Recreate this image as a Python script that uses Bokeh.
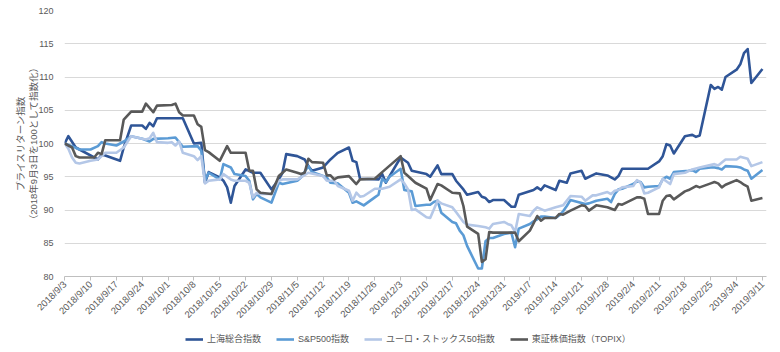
import math
import pandas as pd
from bokeh.plotting import figure
from bokeh.layouts import column
from bokeh.models import FixedTicker, Legend, LegendItem, Range1d
from bokeh.embed import file_html
from bokeh.resources import INLINE

# ---------------- data ----------------
shanghai_dates = ["2018-09-03","2018-09-04","2018-09-06","2018-09-07","2018-09-12","2018-09-13","2018-09-14","2018-09-18","2018-09-19","2018-09-21","2018-09-24","2018-09-25","2018-09-26","2018-09-27","2018-09-28","2018-10-05","2018-10-08","2018-10-10","2018-10-11","2018-10-12","2018-10-15","2018-10-16","2018-10-17","2018-10-18","2018-10-19","2018-10-22","2018-10-24","2018-10-26","2018-10-29","2018-10-31","2018-11-01","2018-11-02","2018-11-05","2018-11-07","2018-11-08","2018-11-09","2018-11-12","2018-11-14","2018-11-15","2018-11-16","2018-11-19","2018-11-20","2018-11-21","2018-11-22","2018-11-27","2018-11-28","2018-11-29","2018-11-30","2018-12-03","2018-12-05","2018-12-06","2018-12-10","2018-12-11","2018-12-13","2018-12-14","2018-12-17","2018-12-18","2018-12-20","2018-12-21","2018-12-24","2018-12-25","2018-12-26","2018-12-27","2018-12-28","2018-12-31","2019-01-02","2019-01-03","2019-01-04","2019-01-08","2019-01-09","2019-01-10","2019-01-11","2019-01-14","2019-01-15","2019-01-17","2019-01-18","2019-01-21","2019-01-22","2019-01-25","2019-01-28","2019-01-30","2019-01-31","2019-02-01","2019-02-08","2019-02-11","2019-02-12","2019-02-13","2019-02-14","2019-02-15","2019-02-18","2019-02-19","2019-02-20","2019-02-21","2019-02-22","2019-02-25","2019-02-26","2019-02-27","2019-02-28","2019-03-01","2019-03-04","2019-03-05","2019-03-06","2019-03-07","2019-03-08","2019-03-11"]
shanghai_values = [100.0,101.1,99.4,99.1,97.6,98.3,98.2,97.4,99.4,102.7,102.7,102.2,103.1,102.6,103.8,103.8,100.0,100.1,94.1,95.7,94.9,94.4,93.4,91.1,93.6,96.1,95.6,95.6,93.1,94.6,95.6,98.4,98.1,97.6,96.6,95.9,96.4,97.6,98.1,98.6,99.4,97.4,97.2,94.7,94.6,95.4,94.1,95.1,97.9,97.1,95.9,95.4,95.0,96.7,95.4,95.4,94.4,93.1,92.3,92.7,92.0,91.8,91.2,91.5,91.5,90.5,90.5,92.3,93.0,93.4,93.0,93.7,93.0,94.4,94.1,95.5,95.9,94.7,95.5,95.2,94.6,95.1,96.2,96.2,97.3,98.1,99.9,99.7,98.5,101.1,101.2,101.3,101.0,101.2,108.8,108.2,108.5,108.1,110.0,111.1,111.9,113.6,114.2,109.1,111.2]

sp500_dates = ["2018-09-03","2018-09-05","2018-09-07","2018-09-10","2018-09-12","2018-09-13","2018-09-14","2018-09-17","2018-09-19","2018-09-21","2018-09-24","2018-09-26","2018-09-27","2018-10-01","2018-10-03","2018-10-05","2018-10-09","2018-10-10","2018-10-11","2018-10-12","2018-10-15","2018-10-16","2018-10-18","2018-10-19","2018-10-22","2018-10-23","2018-10-24","2018-10-25","2018-10-26","2018-10-29","2018-10-31","2018-11-01","2018-11-05","2018-11-06","2018-11-08","2018-11-09","2018-11-12","2018-11-13","2018-11-14","2018-11-16","2018-11-19","2018-11-20","2018-11-21","2018-11-23","2018-11-26","2018-11-27","2018-11-28","2018-11-29","2018-11-30","2018-12-03","2018-12-04","2018-12-06","2018-12-07","2018-12-10","2018-12-11","2018-12-12","2018-12-13","2018-12-14","2018-12-17","2018-12-18","2018-12-19","2018-12-20","2018-12-21","2018-12-24","2018-12-25","2018-12-26","2018-12-27","2018-12-28","2018-12-31","2019-01-02","2019-01-03","2019-01-04","2019-01-07","2019-01-08","2019-01-09","2019-01-10","2019-01-11","2019-01-14","2019-01-15","2019-01-16","2019-01-17","2019-01-18","2019-01-22","2019-01-23","2019-01-25","2019-01-28","2019-01-29","2019-01-30","2019-01-31","2019-02-01","2019-02-04","2019-02-05","2019-02-06","2019-02-07","2019-02-08","2019-02-11","2019-02-12","2019-02-13","2019-02-14","2019-02-15","2019-02-19","2019-02-20","2019-02-21","2019-02-22","2019-02-25","2019-02-26","2019-02-27","2019-02-28","2019-03-01","2019-03-04","2019-03-05","2019-03-06","2019-03-07","2019-03-08","2019-03-11"]
sp500_values = [100.0,99.6,99.1,99.1,99.6,100.2,100.0,99.7,100.3,101.1,100.7,100.3,100.7,100.8,100.9,99.5,99.6,98.9,94.4,95.6,94.6,96.9,96.4,95.4,95.1,94.4,91.6,92.4,91.9,91.1,94.1,93.9,94.4,94.9,96.6,95.7,95.1,94.9,94.1,94.0,92.6,91.1,91.3,90.7,91.9,92.3,94.7,94.2,95.0,96.2,93.0,92.8,90.6,90.8,90.8,91.2,91.4,89.6,88.2,88.0,86.9,86.2,84.6,81.2,81.2,85.3,85.8,85.8,86.4,86.6,84.4,87.2,87.9,88.3,88.6,89.0,89.0,88.8,89.2,89.8,90.6,91.5,90.9,91.0,91.4,91.7,91.2,92.4,93.1,93.2,93.9,94.3,94.2,93.4,93.5,93.6,94.6,95.0,94.7,95.7,95.9,96.0,95.7,96.2,96.4,96.4,96.3,96.1,96.6,96.5,96.4,96.1,95.9,94.7,96.0]

stoxx_dates = ["2018-09-03","2018-09-04","2018-09-05","2018-09-06","2018-09-07","2018-09-10","2018-09-12","2018-09-13","2018-09-14","2018-09-17","2018-09-19","2018-09-21","2018-09-24","2018-09-25","2018-09-26","2018-09-27","2018-09-28","2018-10-01","2018-10-02","2018-10-03","2018-10-04","2018-10-05","2018-10-08","2018-10-09","2018-10-10","2018-10-11","2018-10-12","2018-10-15","2018-10-16","2018-10-18","2018-10-19","2018-10-22","2018-10-23","2018-10-24","2018-10-25","2018-10-26","2018-10-29","2018-10-31","2018-11-01","2018-11-05","2018-11-06","2018-11-08","2018-11-12","2018-11-13","2018-11-15","2018-11-16","2018-11-19","2018-11-20","2018-11-21","2018-11-22","2018-11-23","2018-11-26","2018-11-28","2018-11-30","2018-12-03","2018-12-04","2018-12-05","2018-12-06","2018-12-07","2018-12-10","2018-12-11","2018-12-13","2018-12-14","2018-12-17","2018-12-18","2018-12-20","2018-12-21","2018-12-24","2018-12-26","2018-12-27","2018-12-28","2018-12-31","2019-01-01","2019-01-02","2019-01-03","2019-01-04","2019-01-07","2019-01-08","2019-01-09","2019-01-11","2019-01-14","2019-01-16","2019-01-18","2019-01-21","2019-01-22","2019-01-24","2019-01-25","2019-01-28","2019-01-29","2019-01-30","2019-01-31","2019-02-01","2019-02-04","2019-02-05","2019-02-06","2019-02-07","2019-02-08","2019-02-11","2019-02-12","2019-02-14","2019-02-15","2019-02-18","2019-02-20","2019-02-22","2019-02-26","2019-02-27","2019-03-01","2019-03-04","2019-03-05","2019-03-07","2019-03-08","2019-03-11"]
stoxx_values = [100.0,99.2,97.9,97.1,97.0,97.4,97.6,98.1,98.6,98.6,99.4,101.1,100.7,100.6,100.8,101.6,100.2,100.1,100.2,99.7,100.3,98.6,98.1,97.5,98.1,94.0,94.4,94.6,95.4,94.6,94.4,94.4,94.1,91.9,92.6,92.4,92.4,94.4,94.6,94.6,94.9,95.6,95.1,94.4,94.4,93.6,92.9,91.4,92.6,92.0,92.1,93.2,93.2,93.5,94.6,94.0,93.1,90.0,90.1,88.9,88.8,91.4,91.0,90.4,89.7,88.2,87.8,87.6,87.4,87.2,87.9,88.2,87.9,87.7,86.7,89.4,89.1,89.9,90.4,89.9,90.4,90.7,92.1,92.0,91.4,92.2,92.2,92.7,92.4,92.9,93.0,93.4,93.6,94.5,94.1,92.5,92.6,93.4,94.7,93.9,95.4,95.6,96.1,96.4,96.9,96.7,97.6,97.6,98.0,97.7,96.6,97.2]

topix_dates = ["2018-09-03","2018-09-05","2018-09-06","2018-09-07","2018-09-11","2018-09-12","2018-09-13","2018-09-14","2018-09-18","2018-09-19","2018-09-21","2018-09-24","2018-09-25","2018-09-27","2018-09-28","2018-10-02","2018-10-03","2018-10-04","2018-10-05","2018-10-08","2018-10-09","2018-10-10","2018-10-11","2018-10-12","2018-10-15","2018-10-17","2018-10-18","2018-10-22","2018-10-23","2018-10-24","2018-10-25","2018-10-26","2018-10-29","2018-10-31","2018-11-01","2018-11-02","2018-11-05","2018-11-06","2018-11-07","2018-11-08","2018-11-09","2018-11-12","2018-11-13","2018-11-14","2018-11-15","2018-11-16","2018-11-19","2018-11-20","2018-11-21","2018-11-22","2018-11-26","2018-11-28","2018-12-03","2018-12-04","2018-12-05","2018-12-07","2018-12-10","2018-12-11","2018-12-13","2018-12-14","2018-12-17","2018-12-19","2018-12-20","2018-12-21","2018-12-24","2018-12-25","2018-12-26","2018-12-27","2018-12-28","2019-01-03","2019-01-04","2019-01-07","2019-01-08","2019-01-09","2019-01-10","2019-01-11","2019-01-14","2019-01-15","2019-01-16","2019-01-18","2019-01-21","2019-01-22","2019-01-23","2019-01-25","2019-01-28","2019-01-30","2019-01-31","2019-02-01","2019-02-05","2019-02-06","2019-02-07","2019-02-08","2019-02-11","2019-02-12","2019-02-13","2019-02-14","2019-02-15","2019-02-18","2019-02-19","2019-02-21","2019-02-22","2019-02-25","2019-02-26","2019-02-27","2019-02-28","2019-03-01","2019-03-04","2019-03-05","2019-03-06","2019-03-07","2019-03-08","2019-03-11"]
topix_values = [100.0,99.4,98.1,97.9,97.9,98.6,98.4,100.5,100.5,103.6,104.8,104.8,106.0,104.7,105.7,105.8,106.0,104.7,104.2,104.2,102.9,102.5,99.0,98.7,97.4,99.6,98.6,98.6,95.9,95.9,93.1,92.6,92.4,95.1,95.6,96.1,95.6,95.4,95.6,97.7,97.2,97.1,95.2,95.2,94.6,94.9,95.1,94.5,93.9,94.6,94.7,95.7,98.1,95.6,95.1,94.1,93.2,91.5,93.9,93.7,92.6,92.5,90.6,87.5,86.4,82.2,82.6,86.7,86.6,86.6,85.3,86.9,88.0,89.1,88.4,88.8,88.8,89.4,89.3,89.9,90.7,90.6,89.9,90.7,90.4,90.0,90.9,90.8,91.9,91.9,91.7,89.4,89.4,91.4,92.1,92.2,91.6,92.8,93.0,93.6,93.4,94.0,94.2,94.0,93.4,93.8,94.5,94.2,93.8,93.5,91.4,91.8]

series_names = ["上海総合指数", "S&P500指数", "ユーロ・ストックス50指数", "東証株価指数（TOPIX）"]

tick_dates = ["2018-09-03","2018-09-10","2018-09-17","2018-09-24","2018-10-01","2018-10-08","2018-10-15","2018-10-22","2018-10-29","2018-11-05","2018-11-12","2018-11-19","2018-11-26","2018-12-03","2018-12-10","2018-12-17","2018-12-24","2018-12-31","2019-01-07","2019-01-14","2019-01-21","2019-01-28","2019-02-04","2019-02-11","2019-02-18","2019-02-25","2019-03-04","2019-03-11"]
tick_labels = ["2018/9/3","2018/9/10","2018/9/17","2018/9/24","2018/10/1","2018/10/8","2018/10/15","2018/10/22","2018/10/29","2018/11/5","2018/11/12","2018/11/19","2018/11/26","2018/12/3","2018/12/10","2018/12/17","2018/12/24","2018/12/31","2019/1/7","2019/1/14","2019/1/21","2019/1/28","2019/2/4","2019/2/11","2019/2/18","2019/2/25","2019/3/4","2019/3/11"]
y_ticks = [80, 85, 90, 95, 100, 105, 110, 115, 120]

# ---------------- styling ----------------
colors = ["#2F5597", "#5B9BD5", "#B4C7E7", "#595959"]
FONT = "Liberation Sans, Noto Sans CJK JP"
TXT = "#595959"
LW = 2.6

def ms(d):
    return pd.Timestamp(d).value // 10**6

DAY = 86400000
p = figure(width=780, height=326, x_axis_type="datetime",
           output_backend="svg", toolbar_location=None,
           x_range=Range1d(ms("2018-09-03") - 0.05 * DAY, ms("2019-03-11") + 1.1 * DAY),
           y_range=Range1d(80, 120),
           min_border_left=64, min_border_right=14, min_border_top=10, min_border_bottom=48)
p.outline_line_color = None
p.background_fill_color = "white"

all_series = [(shanghai_dates, shanghai_values), (sp500_dates, sp500_values),
              (stoxx_dates, stoxx_values), (topix_dates, topix_values)]
for (ds, vs), c in zip(all_series, colors):
    p.line(pd.to_datetime(ds), vs, line_color=c, line_width=LW, line_join="round")

# axes
p.xgrid.grid_line_color = None
p.ygrid.grid_line_color = "#D9D9D9"
p.ygrid.grid_line_width = 1

p.yaxis.ticker = FixedTicker(ticks=y_ticks)
p.yaxis.axis_line_color = None
p.yaxis.major_tick_line_color = None
p.yaxis.minor_tick_line_color = None
p.yaxis.major_label_text_font = FONT
p.yaxis.major_label_text_font_size = "9px"
p.yaxis.major_label_text_color = TXT
p.yaxis.major_label_standoff = 5
p.yaxis.axis_label = "プライスリターン指数\n（2018年9月3日を100として指数化）"
p.yaxis.axis_label_text_font = FONT
p.yaxis.axis_label_text_font_size = "9.5px"
p.yaxis.axis_label_text_font_style = "normal"
p.yaxis.axis_label_text_color = TXT
p.yaxis.axis_label_standoff = -4
p.yaxis.axis_label_text_line_height = 1.2

tick_ms = [ms(d) for d in tick_dates]
p.xaxis.ticker = FixedTicker(ticks=tick_ms)
p.xaxis.major_label_overrides = {t: lab for t, lab in zip(tick_ms, tick_labels)}
p.xaxis.major_label_orientation = math.pi / 4
p.xaxis.major_label_text_font = FONT
p.xaxis.major_label_text_font_size = "9.5px"
p.xaxis.major_label_text_color = TXT
p.xaxis.major_label_standoff = 2
p.xaxis.axis_line_color = "#BFBFBF"
p.xaxis.major_tick_line_color = "#BFBFBF"
p.xaxis.major_tick_out = 4
p.xaxis.major_tick_in = 0
p.xaxis.minor_tick_line_color = None

# ---------------- legend strip (separate figure below the chart) ----------------
lf = figure(width=780, height=26, output_backend="svg", toolbar_location=None,
            x_axis_location=None, y_axis_location=None,
            min_border=0, min_border_left=0, min_border_right=0,
            min_border_top=0, min_border_bottom=0)
lf.outline_line_color = None
lf.xgrid.visible = False
lf.ygrid.visible = False
# one-point lines (draw nothing) that only carry the legend styling
legend_renderers = [lf.line(x=pd.to_datetime(ds[:1]), y=vs[:1], line_color=c, line_width=LW)
                    for (ds, vs), c in zip(all_series, colors)]
legend = Legend(items=[LegendItem(label=n, renderers=[r]) for n, r in zip(series_names, legend_renderers)],
                orientation="horizontal", location=(121, 7),
                border_line_color=None, background_fill_alpha=0,
                label_text_font=FONT, label_text_font_size="9px", label_text_color=TXT,
                glyph_width=18, glyph_height=10, label_standoff=4, spacing=15,
                padding=0, margin=0, label_height=12)
lf.add_layout(legend)

open("out.html", "w").write(file_html(column(p, lf, spacing=0), INLINE))
